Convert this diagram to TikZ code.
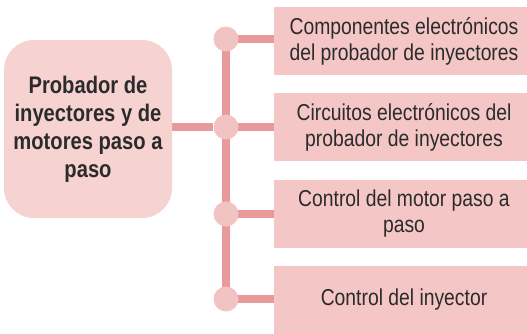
\documentclass[tikz,border=0pt]{standalone}
\usepackage{fontspec}
\setmainfont{Liberation Sans}[FakeStretch=0.84]
\usepackage{xcolor}
\usetikzlibrary{positioning,backgrounds}

\definecolor{hubpink}{HTML}{F6D2D0}
\definecolor{boxpink}{HTML}{F4C6C6}
\definecolor{dotpink}{HTML}{F2C3C3}
\definecolor{linkpink}{HTML}{E8999C}
\definecolor{inkgray}{HTML}{2B2B2B}

\begin{document}
\begin{tikzpicture}[x=1pt,y=-1pt,
    hub/.style={fill=hubpink,rounded corners=30pt,minimum width=168pt,minimum height=178pt,
        align=center,text=inkgray,font=\fontsize{24}{28}\selectfont\bfseries},
    topic/.style={fill=boxpink,minimum width=260pt,minimum height=68pt,
        align=center,text=inkgray,font=\fontsize{23}{26}\selectfont},
    joint/.style={circle,fill=dotpink,minimum size=25pt,inner sep=0pt},
    link/.style={draw=linkpink,line width=8pt}]
    \useasboundingbox (0,0) rectangle (527,333);

    % Main box
    \node[hub] (main) at (88,129) {Probador de\\inyectores y de\\motores paso a\\paso};

    % Topics
    \node[topic] (comp) at (404,41) {Componentes electrónicos\\del probador de inyectores};
    \node[topic] (circ) at (404,127) {Circuitos electrónicos del\\probador de inyectores};
    \node[topic] (motor) at (404,214) {Control del motor paso a\\paso};
    \node[topic] (iny) at (404,300) {Control del inyector};

    % Joints
    \node[joint] (j1) at (226,39) {};
    \node[joint] (j2) at (226,127) {};
    \node[joint] (j3) at (226,214) {};
    \node[joint] (j4) at (226,299) {};

    % Links
    \begin{scope}[on background layer]
        \draw[link] (main.east |- j2) -- (j2);
        \draw[link] (j1.center) -- (j4.center);
        \draw[link] (j1.center) -- (comp.west |- j1);
        \draw[link] (j2.center) -- (circ.west |- j2);
        \draw[link] (j3.center) -- (motor.west |- j3);
        \draw[link] (j4.center) -- (iny.west |- j4);
    \end{scope}
\end{tikzpicture}
\end{document}
